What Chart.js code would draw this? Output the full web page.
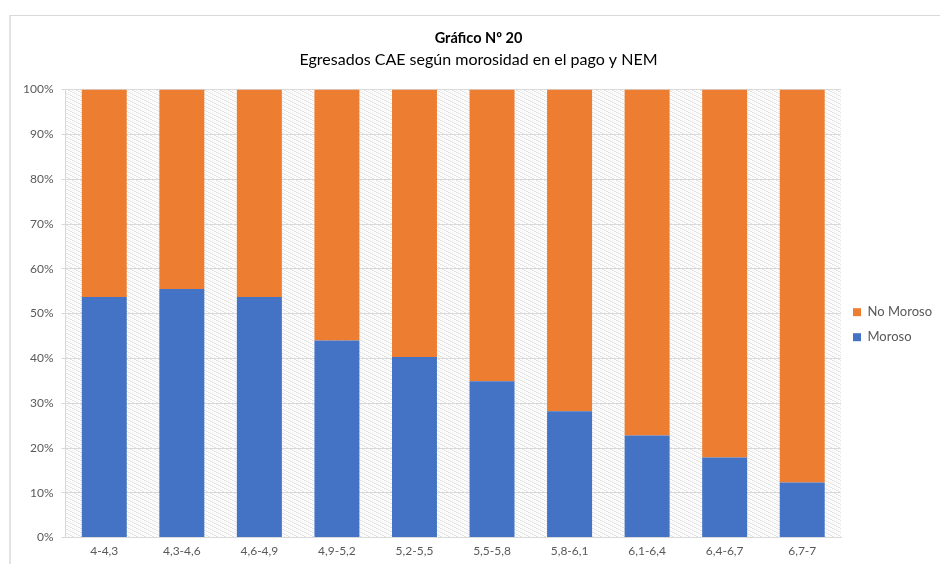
<!DOCTYPE html>
<html>
<head>
<meta charset="utf-8">
<script src="https://cdn.jsdelivr.net/npm/chart.js@4/dist/chart.umd.min.js"></script>
<style>
  body { margin: 0; background: #fff; }
  #wrap { position: relative; width: 940px; height: 564px; }
  #frame { position: absolute; left: 9px; top: 15px; right: -5px; bottom: -5px;
           border-left: 2px solid #e2e2e2; border-top: 1px solid #d9d9d9; }
</style>
</head>
<body>
<div id="wrap">
  <div id="frame"></div>
  <canvas id="chart"></canvas>
</div>
<script>
// Data (percent of graduates per NEM range)
const categories = ['4-4,3', '4,3-4,6', '4,6-4,9', '4,9-5,2', '5,2-5,5', '5,5-5,8', '5,8-6,1', '6,1-6,4', '6,4-6,7', '6,7-7'];
const moroso = [53.7, 55.5, 53.7, 44.0, 40.3, 34.9, 28.2, 22.8, 17.9, 12.3];
const noMoroso = [46.3, 44.5, 46.3, 56.0, 59.7, 65.1, 71.8, 77.2, 82.1, 87.7];
const yTicks = [0, 10, 20, 30, 40, 50, 60, 70, 80, 90, 100];

const FONT = 'Lato, "Open Sans", sans-serif';
const TEXT = '#595959';

// light gray stair pattern used as the plot background
function makePattern(ctx) {
    const c = document.createElement('canvas');
    c.width = 8; c.height = 4;
    const p = c.getContext('2d');
    p.fillStyle = '#ffffff';
    p.fillRect(0, 0, 8, 4);
    p.fillStyle = '#e3e3e3';
    [[0, 0], [1, 0], [2, 1], [3, 1], [4, 2], [5, 2], [6, 3], [7, 3]].forEach(([x, y]) => p.fillRect(x, y, 1, 1));
    p.fillStyle = '#efefef';
    [[4, 0], [6, 1], [0, 2], [2, 3]].forEach(([x, y]) => p.fillRect(x, y, 1, 1));
    return ctx.createPattern(c, 'repeat');
}

const plotBackground = {
    id: 'plotBackground',
    beforeDraw(chart) {
        const { ctx, chartArea: a } = chart;
        ctx.save();
        ctx.fillStyle = makePattern(ctx);
        ctx.fillRect(a.left, a.top, a.right - a.left, a.bottom - a.top);
        ctx.restore();
    }
};

new Chart(document.getElementById('chart').getContext('2d'), {
    type: 'bar',
    data: {
        labels: categories,
        datasets: [
            { label: 'Moroso', data: moroso, backgroundColor: '#4472C4', barPercentage: 0.58, categoryPercentage: 1 },
            { label: 'No Moroso', data: noMoroso, backgroundColor: '#ED7D31', barPercentage: 0.58, categoryPercentage: 1 }
        ]
    },
    options: {
        responsive: true,
        maintainAspectRatio: false,
        animation: false,
        layout: { padding: { left: 15, right: -2, top: 18, bottom: 0 } },
        plugins: {
            title: {
                display: true,
                text: 'Gráfico Nº 20',
                color: '#000',
                font: { family: FONT, size: 14.5, weight: 'bold' },
                padding: { top: 12, bottom: 3 }
            },
            subtitle: {
                display: true,
                text: 'Egresados CAE según morosidad en el pago y NEM',
                color: '#000',
                font: { family: FONT, size: 16 },
                padding: { bottom: 20 }
            },
            legend: {
                position: 'right',
                reverse: true,
                // empty title only pushes the two entries down to mid-plot
                title: { display: true, text: ' ', padding: { top: 0, bottom: 53 } },
                labels: {
                    boxWidth: 8, boxHeight: 8, padding: 12,
                    color: TEXT,
                    font: { family: FONT, size: 13 }
                }
            },
            tooltip: { enabled: false }
        },
        scales: {
            x: {
                stacked: true,
                grid: { display: false, drawTicks: false },
                border: { color: '#d9d9d9' },
                ticks: { color: TEXT, font: { family: FONT, size: 12 }, padding: 6 }
            },
            y: {
                stacked: true,
                min: 0, max: 100,
                afterBuildTicks: axis => { axis.ticks = yTicks.map(v => ({ value: v })); },
                grid: { color: '#d9d9d9', tickLength: 4 },
                border: { color: '#d9d9d9' },
                ticks: { color: TEXT, font: { family: FONT, size: 12 }, padding: 8, callback: v => v + '%' }
            }
        }
    },
    plugins: [plotBackground]
});
</script>
</body>
</html>
